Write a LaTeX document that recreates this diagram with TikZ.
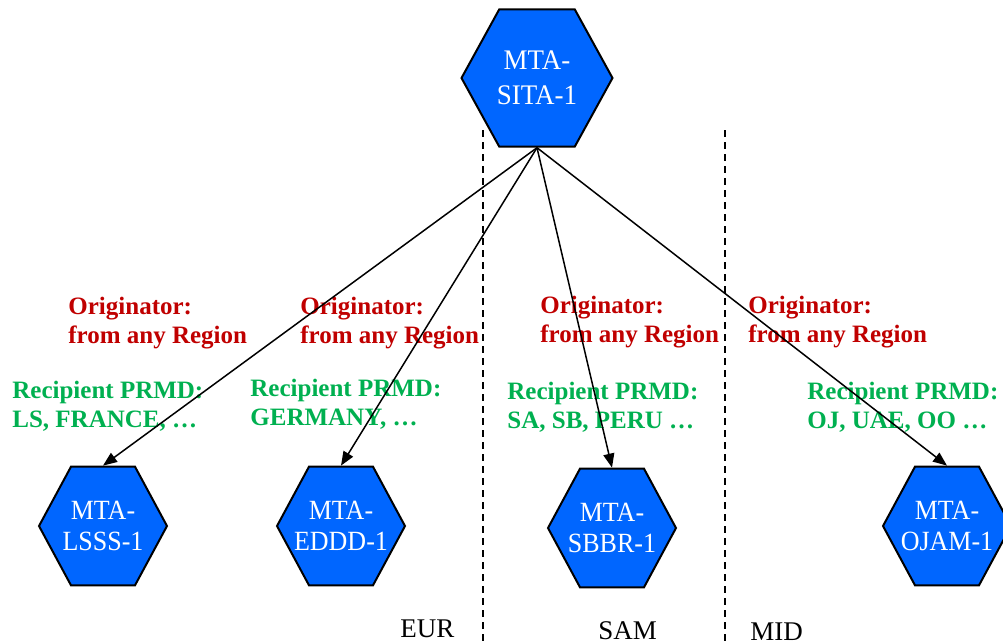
\documentclass[tikz,border=0pt]{standalone}
\usepackage{fontspec}
\setmainfont{Liberation Serif}
\usetikzlibrary{shapes.geometric,arrows.meta}
\definecolor{mtablue}{RGB}{0,102,255}
\definecolor{origred}{RGB}{192,0,0}
\definecolor{recgreen}{RGB}{0,176,80}

\begin{document}
\begin{tikzpicture}[x=0.5pt,y=-0.5pt,
  hexnode/.style={regular polygon,regular polygon sides=6,draw=black,line width=1pt,
    fill=mtablue,text=white,inner sep=-8pt,align=center},
  bighex/.style={hexnode,minimum size=75.5pt,yscale=1.05,font=\fontsize{13.5}{16.5}\selectfont},
  smallhex/.style={hexnode,minimum size=64pt,yscale=1.07,font=\fontsize{13}{14.2}\selectfont},
  origin/.style={anchor=base west,align=left,inner sep=0pt,text=origred,
    font=\bfseries\fontsize{12.5}{14.25}\selectfont},
  recip/.style={anchor=base west,align=left,inner sep=0pt,text=recgreen,
    font=\bfseries\fontsize{12.5}{14.25}\selectfont},
  region/.style={anchor=base west,inner sep=0pt,font=\fontsize{13.5}{16}\selectfont},
  border/.style={line width=0.75pt,dash pattern=on 3.5pt off 2.5pt},
  link/.style={line width=0.75pt,-{Triangle[length=7pt,width=5.5pt]}}
]
\useasboundingbox (0,0) rectangle (1003,643);

\coordinate (eurtop) at (483,130);
\coordinate (eurbot) at (483,643);
\coordinate (samtop) at (725,130);
\coordinate (sambot) at (725,643);
\draw[border] (eurtop) -- (eurbot);
\draw[border] (samtop) -- (sambot);

\node[bighex] (sita) at (537,78) {MTA-\\SITA-1};
\node[smallhex] (lsss) at (103,526) {MTA-\\LSSS-1};
\node[smallhex] (eddd) at (341,526) {MTA-\\EDDD-1};
\node[smallhex] (sbbr) at (612,528) {MTA-\\SBBR-1};
\node[smallhex] (ojam) at (947,526) {MTA-\\OJAM-1};

\node[origin] (org1) at (68,343) {Originator:\\from any Region};
\node[origin] (org2) at (300,343) {Originator:\\from any Region};
\node[origin] (org3) at (540,342) {Originator:\\from any Region};
\node[origin] (org4) at (748,342) {Originator:\\from any Region};

\node[recip] (rec1) at (12,427) {Recipient PRMD:\\LS, FRANCE, \dots};
\node[recip] (rec2) at (250,425) {Recipient PRMD:\\GERMANY, \dots};
\node[recip] (rec3) at (507,428) {Recipient PRMD:\\SA, SB, PERU \dots};
\node[recip] (rec4) at (807,428) {Recipient PRMD:\\OJ, UAE, OO \dots};

\node[region] (eur) at (400,637) {EUR};
\node[region] (sam) at (598,639) {SAM};
\node[region] (mid) at (750,640) {MID};

\draw[link] (sita.south) -- (lsss.north);
\draw[link] (sita.south) -- (eddd.north);
\draw[link] (sita.south) -- (sbbr.north);
\draw[link] (sita.south) -- (ojam.north);
\end{tikzpicture}
\end{document}
